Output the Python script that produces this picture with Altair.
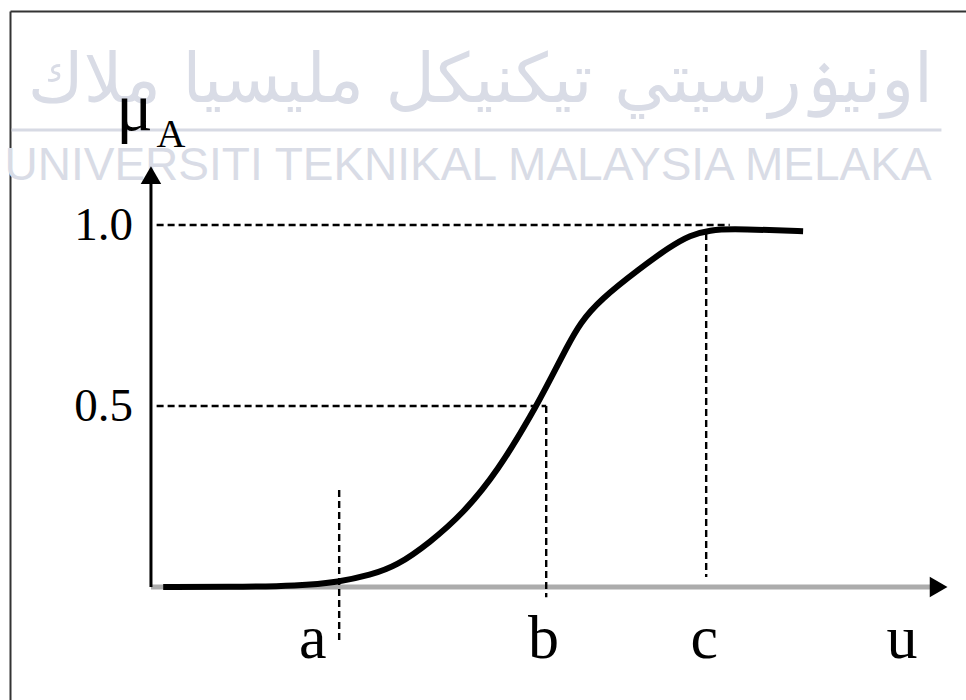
import altair as alt
import pandas as pd

# S-shaped membership function mu_A(u) with breakpoints a, b, c
curve_u = [0.13, 0.81, 1.58, 2.0, 2.33, 2.61, 2.96, 3.32, 3.68, 4.06, 4.24, 4.42,
           4.56, 4.77, 5.20, 5.51, 5.73, 5.94, 6.18, 6.58, 6.93]
curve_mu = [0.0, 0.0, 0.003, 0.014, 0.033, 0.058, 0.122, 0.204, 0.318, 0.483, 0.572, 0.663,
            0.729, 0.793, 0.881, 0.939, 0.972, 0.986, 0.989, 0.986, 0.983]

a_val, b_val, c_val = 2.0, 4.2, 5.9
levels = [1.0, 0.5]
level_labels = ["1.0", "0.5"]
u_axis_end = 8.3
mu_axis_end = 1.116

letters = ["a", "b", "c", "u"]
letter_u = [1.72, 4.17, 5.88, 7.98]

watermark_en = "UNIVERSITI TEKNIKAL MALAYSIA MELAKA"
watermark_ar = "اونيۏرسيتي تيكنيكل مليسيا ملاك"

SERIF = "Liberation Serif"
WM = "#d9dce6"

xs = alt.Scale(domain=[-1.498, 8.661], nice=False, zero=False)
ys = alt.Scale(domain=[-0.312, 1.591], nice=False, zero=False)

# frame: left and top axis domains only
ax_frame_x = alt.Axis(orient="top", domain=True, domainColor="#333333", domainWidth=2,
                      ticks=False, labels=False, grid=False, title=None)
ax_frame_y = alt.Axis(orient="left", domain=True, domainColor="#333333", domainWidth=2,
                      ticks=False, labels=False, grid=False, title=None)


def X(field):
    return alt.X(field, type="quantitative", scale=xs, axis=ax_frame_x)


def Y(field):
    return alt.Y(field, type="quantitative", scale=ys, axis=ax_frame_y)


# watermark
wm_line = alt.Chart(pd.DataFrame({"u": [-1.48], "u2": [8.4], "mu": [1.262]})).mark_rule(
    color="#d7dae4", strokeWidth=3).encode(x=X("u"), x2="u2", y=Y("mu"))
wm_en = alt.Chart(pd.DataFrame({"u": [3.37], "mu": [1.163], "t": [watermark_en]})).mark_text(
    font="Liberation Sans", fontSize=46, color=WM, baseline="middle", align="center"
).encode(x=X("u"), y=Y("mu"), text="t")
wm_ar = alt.Chart(pd.DataFrame({"u": [3.5], "mu": [1.34], "t": [watermark_ar]})).mark_text(
    font="DejaVu Sans", fontSize=68, color=WM, baseline="alphabetic", align="center"
).encode(x=X("u"), y=Y("mu"), text="t")

# coordinate axes with arrows
u_axis = alt.Chart(pd.DataFrame({"u": [0.0], "u2": [u_axis_end], "mu": [0.0]})).mark_rule(
    color="#acacac", strokeWidth=5).encode(x=X("u"), x2="u2", y=Y("mu"))
mu_axis = alt.Chart(pd.DataFrame({"u": [0.0], "mu": [0.0], "mu2": [mu_axis_end]})).mark_rule(
    color="black", strokeWidth=3).encode(x=X("u"), y=Y("mu"), y2="mu2")
arrow_up = alt.Chart(pd.DataFrame({"u": [0.0], "mu": [1.138]})).mark_point(
    shape="triangle-up", size=420, filled=True, color="black", opacity=1
).encode(x=X("u"), y=Y("mu"))
arrow_right = alt.Chart(pd.DataFrame({"u": [8.37], "mu": [0.0]})).mark_point(
    shape="triangle-right", size=420, filled=True, color="black", opacity=1
).encode(x=X("u"), y=Y("mu"))

# dashed guides
h_guides = alt.Chart(pd.DataFrame({"u": [0.06, 0.06], "u2": [6.15, b_val], "mu": levels})).mark_rule(
    color="black", strokeWidth=2.4, strokeDash=[7, 4]).encode(x=X("u"), x2="u2", y=Y("mu"))
v_guides = alt.Chart(pd.DataFrame({
    "u": [a_val, b_val, c_val],
    "mu": [0.268, 0.5, 0.978],
    "mu2": [-0.146, -0.028, 0.028],
})).mark_rule(color="black", strokeWidth=2.4, strokeDash=[7, 4]).encode(
    x=X("u"), y=Y("mu"), y2="mu2")

# membership curve
curve = alt.Chart(pd.DataFrame({"u": curve_u, "mu": curve_mu})).mark_line(
    color="black", strokeWidth=6, interpolate="basis", strokeCap="butt"
).encode(x=X("u"), y=Y("mu"))

# labels
level_text = alt.Chart(pd.DataFrame({"u": [-0.19, -0.19], "mu": levels, "t": level_labels})).mark_text(
    font=SERIF, fontSize=47, color="black", align="right", baseline="middle", dy=1
).encode(x=X("u"), y=Y("mu"), text="t")
letter_text = alt.Chart(pd.DataFrame({"u": letter_u, "mu": [-0.195] * 4, "t": letters})).mark_text(
    font=SERIF, fontSize=62, color="black", align="center", baseline="alphabetic"
).encode(x=X("u"), y=Y("mu"), text="t")
mu_text = alt.Chart(pd.DataFrame({"u": [-0.37], "mu": [1.262], "t": ["μ"]})).mark_text(
    font=SERIF, fontSize=68, color="black", align="left", baseline="alphabetic"
).encode(x=X("u"), y=Y("mu"), text="t")
sub_text = alt.Chart(pd.DataFrame({"u": [0.06], "mu": [1.215], "t": ["A"]})).mark_text(
    font=SERIF, fontSize=40, color="black", align="left", baseline="alphabetic"
).encode(x=X("u"), y=Y("mu"), text="t")

chart = alt.layer(
    wm_line, wm_ar, wm_en,
    u_axis, h_guides, v_guides, curve, mu_axis, arrow_up, arrow_right,
    level_text, letter_text, mu_text, sub_text,
).properties(
    width=956, height=689,
    padding={"left": 10, "top": 11, "right": 0, "bottom": 0},
    autosize=alt.AutoSizeParams(type="none"),
    background="white",
).configure_view(stroke=None)

chart.save("out.html", embed_options={"renderer": "svg", "actions": False})
